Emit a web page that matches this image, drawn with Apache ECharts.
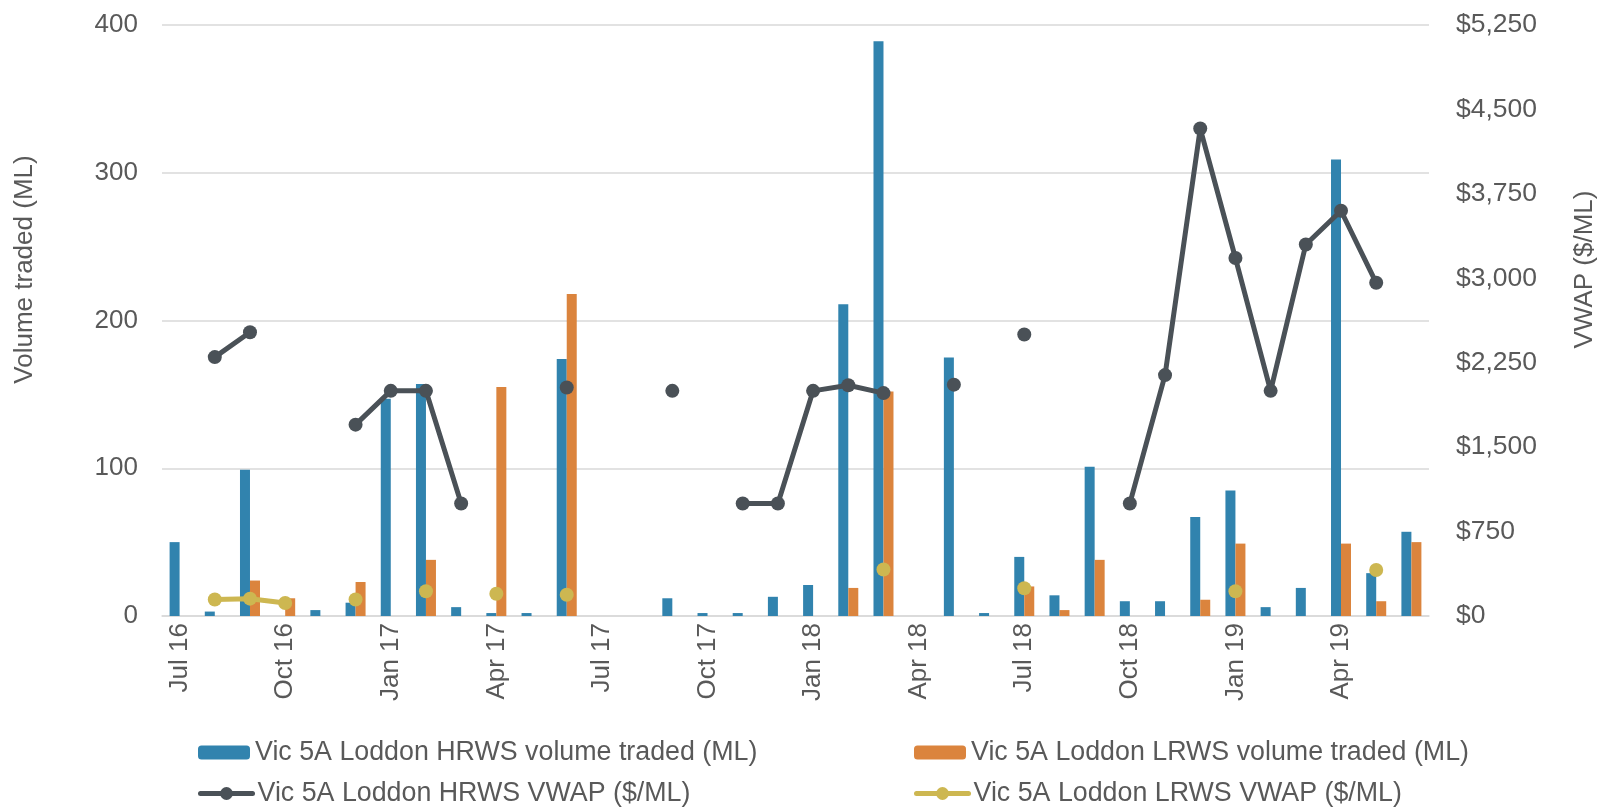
<!DOCTYPE html>
<html>
<head>
<meta charset="utf-8">
<script src="https://cdn.jsdelivr.net/npm/echarts@6/dist/echarts.min.js"></script>
<style>
  html, body { margin: 0; padding: 0; background: #fff; }
  #main { width: 1606px; height: 810px; }
</style>
</head>
<body>
<div id="main"></div>
<script>
// months Jul 16 .. Jun 19
const months = ['Jul 16','Aug 16','Sep 16','Oct 16','Nov 16','Dec 16',
  'Jan 17','Feb 17','Mar 17','Apr 17','May 17','Jun 17',
  'Jul 17','Aug 17','Sep 17','Oct 17','Nov 17','Dec 17',
  'Jan 18','Feb 18','Mar 18','Apr 18','May 18','Jun 18',
  'Jul 18','Aug 18','Sep 18','Oct 18','Nov 18','Dec 18',
  'Jan 19','Feb 19','Mar 19','Apr 19','May 19','Jun 19'];

const hrwsVolume = [50, 3, 99, null, 4, 9,
  147, 157, 6, 2, 2, 174,
  null, null, 12, 2, 2, 13,
  21, 211, 389, null, 175, 2,
  40, 14, 101, 10, 10, 67,
  85, 6, 19, 309, 29, 57];

const lrwsVolume = [null, null, 24, 12, null, 23,
  null, 38, null, 155, null, 218,
  null, null, null, null, null, null,
  null, 19, 152, null, null, null,
  20, 4, 38, null, null, 11,
  49, null, null, 49, 10, 50];

const hrwsVwap = [null, 2300, 2520, null, null, 1700,
  2000, 2000, 1000, null, null, 2030,
  null, null, 2000, null, 1000, 1000,
  2000, 2050, 1980, null, 2055, null,
  2500, null, null, 1000, 2140, 4330,
  3180, 2000, 3300, 3600, 2960, null];

const lrwsVwap = [null, 147, 154, 116, null, 147,
  null, 220, null, 197, null, 189,
  null, null, null, null, null, null,
  null, null, 413, null, null, null,
  246, null, null, null, null, null,
  220, null, null, null, 408, null];

const leftTicks = { min: 0, max: 400, interval: 100 };
const rightTicks = { min: 0, max: 5250, interval: 750 };

const txt = '#595959';
const font = 'Liberation Sans, Arial, sans-serif';
const fs = 26;

const chart = echarts.init(document.getElementById('main'));

const legendBase = {
  orient: 'horizontal',
  padding: 0,
  itemWidth: 52,
  itemHeight: 14,
  textStyle: { color: txt, fontSize: 26.8, fontFamily: font },
  selectedMode: false
};
const lineLegend = {
  itemHeight: 16,
  lineStyle: { width: 5 }
};

chart.setOption({
  animation: false,
  textStyle: { fontFamily: font },
  grid: { left: 162, right: 170, top: 25, bottom: 194 },
  legend: [
    Object.assign({}, legendBase, { left: 198, top: 739, data: ['Vic 5A Loddon HRWS volume traded (ML)'] }),
    Object.assign({}, legendBase, { left: 914, top: 739, data: ['Vic 5A Loddon LRWS volume traded (ML)'] }),
    Object.assign({}, legendBase, lineLegend, { left: 198, top: 780, data: ['Vic 5A Loddon HRWS VWAP ($/ML)'] }),
    Object.assign({}, legendBase, lineLegend, { left: 914, top: 780, data: ['Vic 5A Loddon LRWS VWAP ($/ML)'] })
  ],
  xAxis: {
    type: 'category',
    data: months,
    axisLine: { lineStyle: { color: '#D9D9D9', width: 1.5 } },
    axisTick: { show: false },
    axisLabel: {
      interval: 2,
      rotate: 90,
      color: txt,
      fontSize: fs,
      fontFamily: font,
      margin: 7
    }
  },
  yAxis: [
    {
      type: 'value',
      min: leftTicks.min, max: leftTicks.max, interval: leftTicks.interval,
      name: 'Volume traded (ML)',
      nameLocation: 'middle',
      nameGap: 124,
      nameTextStyle: { color: txt, fontSize: fs, fontFamily: font, padding: [0, 0, 0, 102] },
      axisLine: { show: false },
      axisTick: { show: false },
      axisLabel: { color: txt, fontSize: fs, fontFamily: font, margin: 24 },
      splitLine: { lineStyle: { color: '#D9D9D9', width: 1.5 } }
    },
    {
      type: 'value',
      min: rightTicks.min, max: rightTicks.max, interval: rightTicks.interval,
      name: 'VWAP ($/ML)',
      nameLocation: 'middle',
      nameGap: 143,
      nameRotate: 90,
      nameTextStyle: { color: txt, fontSize: fs, fontFamily: font, padding: [0, 0, 0, 102] },
      axisLine: { show: false },
      axisTick: { show: false },
      axisLabel: {
        color: txt, fontSize: 26.5, fontFamily: font, margin: 27,
        formatter: v => '$' + v.toLocaleString('en-US')
      },
      splitLine: { show: false }
    }
  ],
  series: [
    {
      name: 'Vic 5A Loddon HRWS volume traded (ML)',
      type: 'bar',
      data: hrwsVolume,
      barWidth: 10,
      barGap: '0%',
      itemStyle: { color: '#3183AE' }
    },
    {
      name: 'Vic 5A Loddon LRWS volume traded (ML)',
      type: 'bar',
      data: lrwsVolume,
      barWidth: 10,
      barGap: '0%',
      itemStyle: { color: '#DB843D' }
    },
    {
      name: 'Vic 5A Loddon HRWS VWAP ($/ML)',
      type: 'line',
      yAxisIndex: 1,
      data: hrwsVwap,
      connectNulls: false,
      symbol: 'circle',
      symbolSize: 14,
      showAllSymbol: true,
      lineStyle: { color: '#4A5157', width: 5, cap: 'round' },
      itemStyle: { color: '#4A5157' }
    },
    {
      name: 'Vic 5A Loddon LRWS VWAP ($/ML)',
      type: 'line',
      yAxisIndex: 1,
      data: lrwsVwap,
      connectNulls: false,
      symbol: 'circle',
      symbolSize: 14,
      showAllSymbol: true,
      lineStyle: { color: '#CDB751', width: 5, cap: 'round' },
      itemStyle: { color: '#CDB751' }
    }
  ]
});
</script>
</body>
</html>
